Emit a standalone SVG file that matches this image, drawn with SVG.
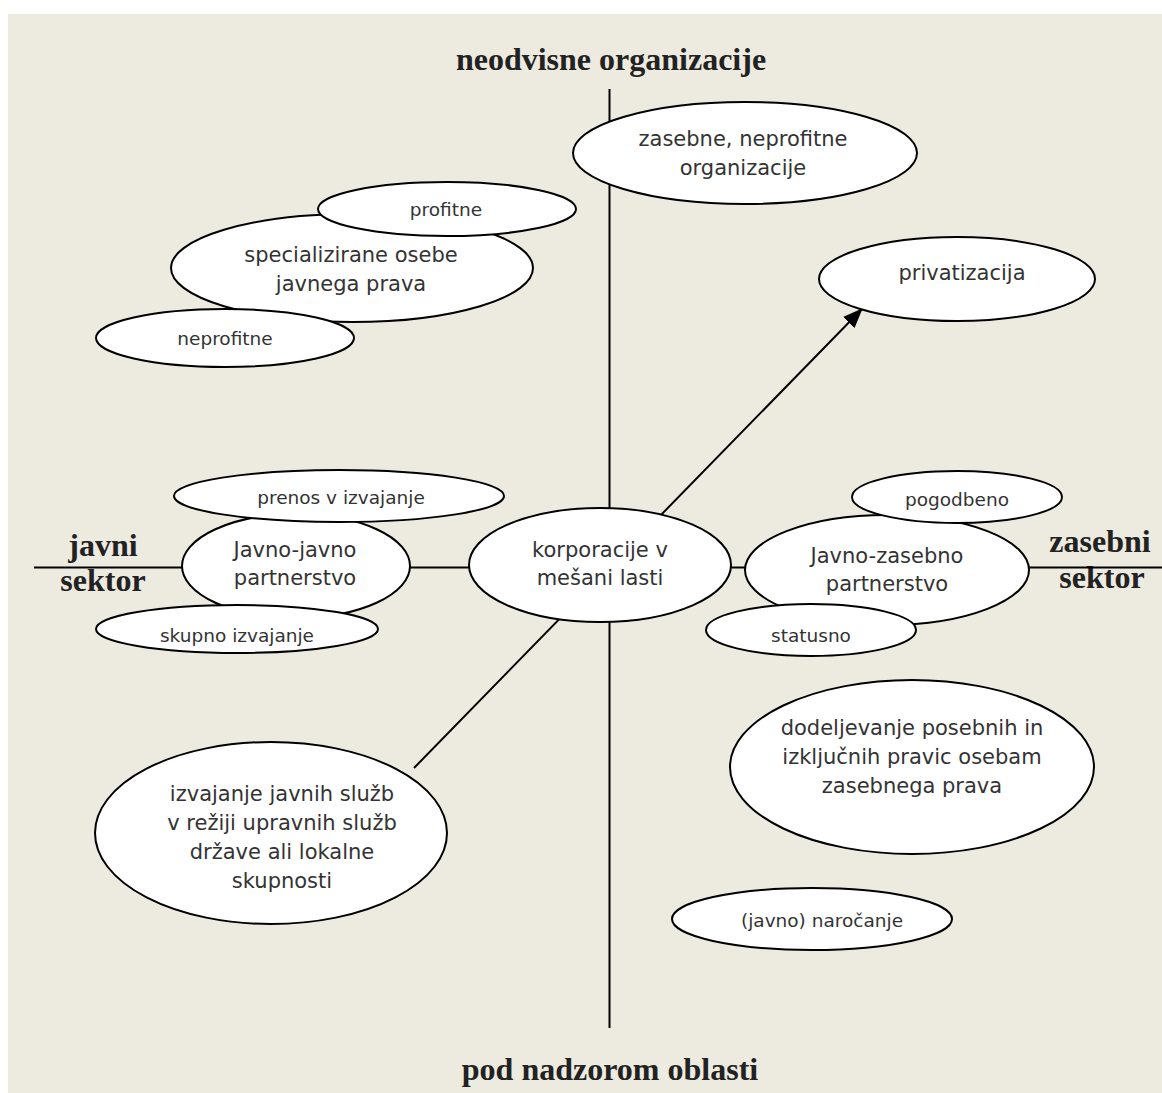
<svg xmlns="http://www.w3.org/2000/svg" width="1162" height="1093" viewBox="0 0 1162 1093">
<style>
.bg{fill:#EDEBE0}
.ax{stroke:#000;stroke-width:2;fill:none}
.el{fill:#fff;stroke:#000;stroke-width:2}
.t{font-family:"DejaVu Sans",Verdana,sans-serif;font-size:21px;fill:#333;text-anchor:middle}
.s{font-family:"DejaVu Sans",Verdana,sans-serif;font-size:18.5px;fill:#333;text-anchor:middle}
.h{font-family:"Liberation Serif","Times New Roman",serif;font-size:32px;font-weight:bold;fill:#222;text-anchor:middle}
</style>
<defs>
<marker id="arr" markerUnits="userSpaceOnUse" markerWidth="20" markerHeight="16" refX="19" refY="8" orient="auto">
<path d="M0,0 L20,8 L0,16 z" fill="#000"/>
</marker>
</defs>
<rect class="bg" x="8" y="14" width="1154" height="1079"/>
<g id="labels">
<text class="h" x="611" y="70">neodvisne organizacije</text>
<text class="h" x="610" y="1080">pod nadzorom oblasti</text>
<text class="h" x="103" y="556">javni</text>
<text class="h" x="103" y="591">sektor</text>
<text class="h" x="1100" y="552">zasebni</text>
<text class="h" x="1102" y="588">sektor</text>
</g>
<g id="connectors">
<line class="ax" x1="609.5" y1="89" x2="609.5" y2="1028"/>
<line class="ax" x1="34" y1="567.5" x2="1162" y2="567.5"/>
<line class="ax" x1="414" y1="768" x2="862" y2="309" marker-end="url(#arr)"/>
</g>
<g id="n-zasebne">
<ellipse class="el" cx="745" cy="153" rx="172" ry="51"/>
<text class="t" x="743" y="146">zasebne, neprofitne</text>
<text class="t" x="743" y="175">organizacije</text>
</g>
<g id="n-specializirane">
<ellipse class="el" cx="352" cy="268" rx="181" ry="54"/>
<text class="t" x="351" y="262">specializirane osebe</text>
<text class="t" x="351" y="291">javnega prava</text>
</g>
<g id="n-profitne">
<ellipse class="el" cx="447" cy="209" rx="129" ry="27"/>
<text class="s" x="446" y="216">profitne</text>
</g>
<g id="n-neprofitne">
<ellipse class="el" cx="225" cy="338" rx="129" ry="29"/>
<text class="s" x="225" y="345">neprofitne</text>
</g>
<g id="n-privatizacija">
<ellipse class="el" cx="957" cy="279" rx="138" ry="42"/>
<text class="t" x="962" y="280">privatizacija</text>
</g>
<g id="n-javno-javno">
<ellipse class="el" cx="296" cy="566" rx="114" ry="52"/>
<text class="t" x="295" y="557">Javno-javno</text>
<text class="t" x="295" y="585">partnerstvo</text>
</g>
<g id="n-prenos">
<ellipse class="el" cx="339" cy="496" rx="165" ry="26"/>
<text class="s" x="341" y="504">prenos v izvajanje</text>
</g>
<g id="n-skupno">
<ellipse class="el" cx="237" cy="629" rx="141" ry="24"/>
<text class="s" x="237" y="642">skupno izvajanje</text>
</g>
<g id="n-korporacije">
<ellipse class="el" cx="600" cy="565" rx="131" ry="57"/>
<text class="t" x="600" y="557">korporacije v</text>
<text class="t" x="600" y="585">mešani lasti</text>
</g>
<g id="n-javno-zasebno">
<ellipse class="el" cx="887" cy="570" rx="142" ry="55"/>
<text class="t" x="887" y="563">Javno-zasebno</text>
<text class="t" x="887" y="591">partnerstvo</text>
</g>
<g id="n-pogodbeno">
<ellipse class="el" cx="957" cy="497" rx="105" ry="26"/>
<text class="s" x="957" y="506">pogodbeno</text>
</g>
<g id="n-statusno">
<ellipse class="el" cx="811" cy="630" rx="105" ry="26"/>
<text class="s" x="811" y="642">statusno</text>
</g>
<g id="n-dodeljevanje">
<ellipse class="el" cx="912" cy="767" rx="182" ry="87"/>
<text class="t" x="912" y="735">dodeljevanje posebnih in</text>
<text class="t" x="912" y="764">izključnih pravic osebam</text>
<text class="t" x="912" y="793">zasebnega prava</text>
</g>
<g id="n-izvajanje">
<ellipse class="el" cx="271" cy="833" rx="176" ry="91"/>
<text class="t" x="282" y="801">izvajanje javnih služb</text>
<text class="t" x="282" y="830">v režiji upravnih služb</text>
<text class="t" x="282" y="859">države ali lokalne</text>
<text class="t" x="282" y="888">skupnosti</text>
</g>
<g id="n-narocanje">
<ellipse class="el" cx="812" cy="919" rx="140" ry="31"/>
<text class="s" x="822" y="927">(javno) naročanje</text>
</g>
</svg>
